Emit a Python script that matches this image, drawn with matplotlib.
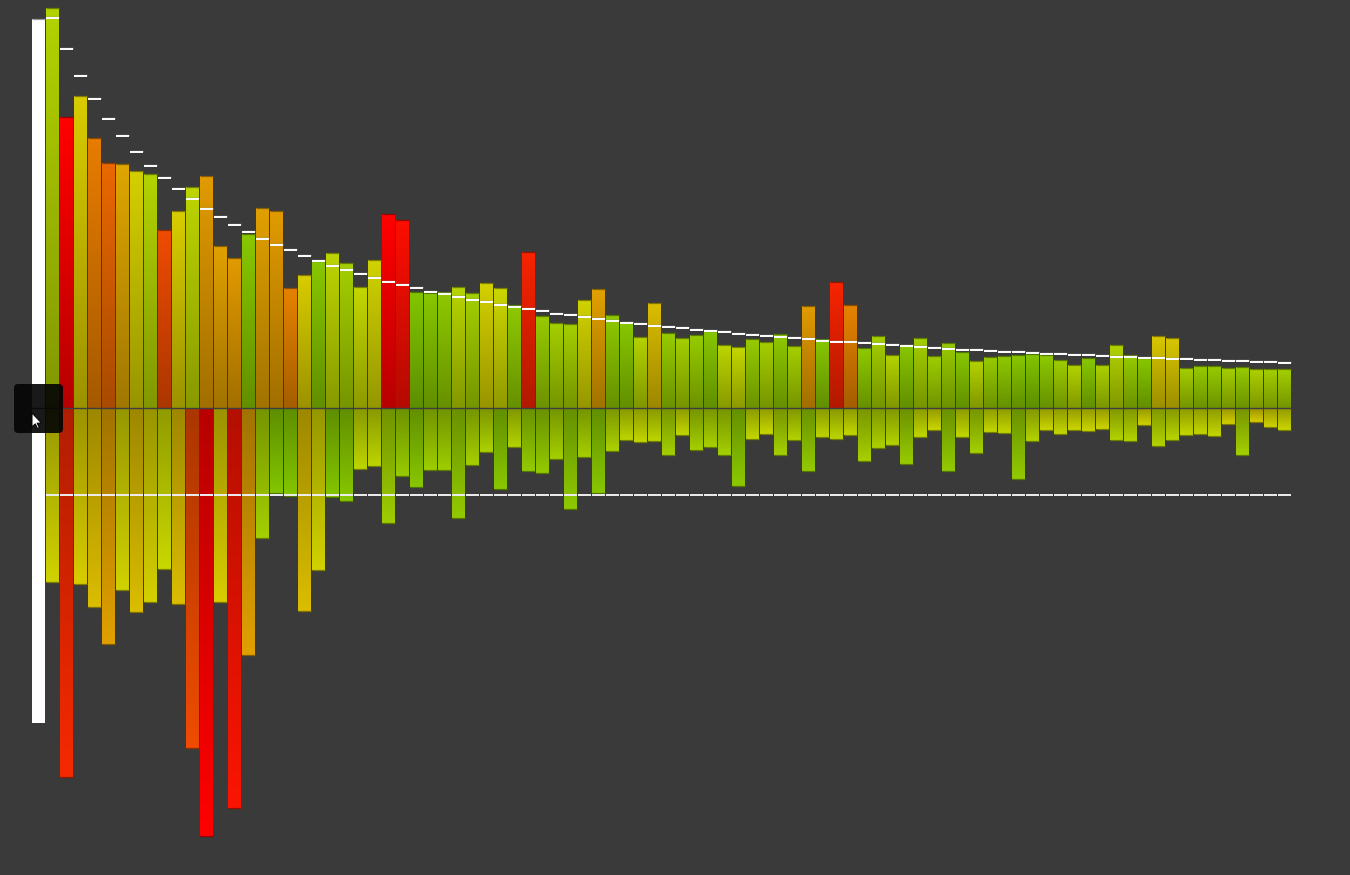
import numpy as np
import matplotlib
matplotlib.use("Agg")
import matplotlib.pyplot as plt
from matplotlib.colors import LinearSegmentedColormap, to_rgb
from matplotlib.patches import FancyBboxPatch, Polygon

## data: heights above / depths below the baseline

top_values = [400, 291, 312, 270, 245, 244, 237, 234, 178, 197,
              221, 232, 162, 150, 174, 200, 197, 120, 133, 147,
              155, 145, 121, 148, 194, 188, 116, 115, 116, 121,
              115, 125, 120, 103, 156, 92, 85, 84, 108, 119,
              93, 86, 71, 105, 75, 70, 73, 77, 63, 61,
              69, 66, 74, 62, 102, 69, 126, 103, 60, 72,
              53, 63, 70, 52, 65, 56, 47, 51, 52, 53,
              54, 53, 48, 43, 50, 43, 63, 53, 50, 72,
              70, 40, 42, 42, 40, 41, 39, 39, 39]

expected_top = [390, 359, 332, 309, 289, 272, 256, 242, 230, 219,
                209, 199, 191, 183, 176, 169, 163, 158, 152, 147,
                142, 138, 134, 130, 126, 123, 120, 116, 114, 111,
                108, 106, 103, 101, 99, 97, 94, 93, 91, 89,
                87, 85, 84, 82, 81, 80, 78, 77, 76, 74,
                73, 72, 71, 70, 69, 67, 66, 66, 65, 64,
                63, 62, 61, 60, 59, 58, 58, 57, 56, 56,
                55, 54, 54, 53, 53, 52, 51, 51, 50, 50,
                49, 49, 48, 48, 47, 47, 46, 46, 45]

bottom_values = [174, 369, 176, 199, 236, 182, 204, 194, 161, 196,
                 340, 428, 194, 400, 247, 130, 85, 88, 203, 162,
                 89, 93, 61, 58, 115, 68, 79, 62, 62, 110,
                 57, 44, 81, 39, 63, 65, 51, 101, 49, 85,
                 43, 32, 34, 33, 47, 27, 42, 39, 47, 78,
                 31, 26, 47, 32, 63, 29, 31, 27, 53, 40,
                 37, 56, 29, 22, 63, 29, 45, 24, 25, 71,
                 33, 22, 26, 22, 23, 21, 32, 33, 17, 38,
                 32, 27, 26, 28, 16, 47, 14, 19, 22]

expected_bottom = 87

# colour score per bar: 0 = green (on target) ... 1 = red (far off)
top_score = [0.25, 1.0, 0.45, 0.72, 0.78, 0.58, 0.42, 0.25, 0.85, 0.45,
             0.3, 0.62, 0.6, 0.62, 0.05, 0.6, 0.62, 0.7, 0.45, 0.05,
             0.3, 0.18, 0.33, 0.4, 1.0, 0.97, 0.02, 0.05, 0.08, 0.27,
             0.18, 0.42, 0.37, 0.08, 0.93, 0.12, 0.18, 0.18, 0.4, 0.6,
             0.08, 0.05, 0.25, 0.5, 0.12, 0.18, 0.12, 0.05, 0.3, 0.33,
             0.12, 0.18, 0.08, 0.18, 0.62, 0.05, 0.93, 0.7, 0.08, 0.18,
             0.25, 0.05, 0.18, 0.15, 0.12, 0.05, 0.25, 0.12, 0.08, 0.05,
             0.02, 0.08, 0.15, 0.25, 0.05, 0.22, 0.25, 0.12, 0.05, 0.47,
             0.47, 0.18, 0.12, 0.12, 0.18, 0.12, 0.22, 0.18, 0.18]

bottom_score = [0.4, 0.92, 0.45, 0.5, 0.6, 0.4, 0.5, 0.42, 0.35, 0.5,
                0.85, 1.0, 0.45, 0.96, 0.6, 0.18, 0.02, 0.03, 0.5, 0.4,
                0.03, 0.05, 0.3, 0.3, 0.15, 0.12, 0.05, 0.15, 0.15, 0.1,
                0.18, 0.22, 0.05, 0.25, 0.1, 0.1, 0.18, 0.08, 0.18, 0.05,
                0.22, 0.3, 0.32, 0.3, 0.18, 0.33, 0.18, 0.2, 0.18, 0.07,
                0.32, 0.35, 0.18, 0.25, 0.1, 0.3, 0.3, 0.33, 0.2, 0.22,
                0.25, 0.12, 0.32, 0.37, 0.1, 0.32, 0.18, 0.33, 0.33, 0.1,
                0.25, 0.37, 0.33, 0.37, 0.37, 0.38, 0.25, 0.25, 0.4, 0.25,
                0.28, 0.33, 0.33, 0.33, 0.42, 0.18, 0.45, 0.4, 0.37]

# the white reference bar on the far left
ref_top = 389
ref_bottom = 315

## style
bg = "#3a3a3a"
barW = 13 / 14.0
score_cmap = LinearSegmentedColormap.from_list("score", [
    (0.0, "#7ec400"), (0.2, "#a8d000"), (0.35, "#c8d800"),
    (0.45, "#d8cc00"), (0.6, "#e0a000"), (0.75, "#e87400"),
    (0.88, "#f04000"), (1.0, "#ff0000")])


def gradient_bar(ax, x, h, color):
    c = np.array(to_rgb(color))
    t = np.linspace(0, 1, 64)[:, None]          # 0 at baseline, 1 at tip
    img = (c[None, :] * (0.72 + 0.28 * t))[:, None, :]
    if h >= 0:
        ax.imshow(img, extent=(x - barW/2, x + barW/2, 0, h), origin="lower",
                  aspect="auto", interpolation="bilinear", zorder=2)
    else:
        ax.imshow(img, extent=(x - barW/2, x + barW/2, h, 0), origin="upper",
                  aspect="auto", interpolation="bilinear", zorder=2)
    ax.hlines(h, x - barW/2, x + barW/2, colors=[c * 0.6], lw=0.9, zorder=2.5)


fig = plt.figure(figsize=(13.5, 8.75), dpi=100)
fig.patch.set_facecolor(bg)
ax = fig.add_axes([0, 0, 1, 1])
ax.set_facecolor(bg)

n = len(top_values)
xs = np.arange(n)

for i in range(n):
    gradient_bar(ax, xs[i], top_values[i], score_cmap(top_score[i]))
    gradient_bar(ax, xs[i], -bottom_values[i], score_cmap(bottom_score[i]))

# white reference bar
ax.bar(-1, ref_top + ref_bottom, bottom=-ref_bottom, width=barW, color="white",
       edgecolor="none", zorder=2)
ax.hlines(ref_top, -1 - barW/2, -1 + barW/2, colors="#999999", lw=0.9, zorder=2.5)

# baseline
ax.hlines(0, -1.5, n - 0.5, colors="#3e3e3e", lw=1.0, zorder=3)

# expected markers
ax.hlines(np.array(expected_top) + 1.2, xs - barW/2, xs + barW/2, colors="#8a8a8a", lw=1.0, zorder=4)
ax.hlines(expected_top, xs - barW/2, xs + barW/2, colors="white", lw=1.4, zorder=4.5)
ax.hlines([-expected_bottom] * n, xs - barW/2, xs + barW/2, colors="#eeeeee", lw=1.4, zorder=4)

# the little black hover box + mouse pointer
box = FancyBboxPatch((-2.75, -25), 3.5, 49, boxstyle="round,pad=0,rounding_size=0.3",
                     mutation_aspect=14, facecolor="#050505", edgecolor="none",
                     alpha=0.92, zorder=6)
ax.add_patch(box)
tipX, tipY = -1.464, -5
pointer = [(0, 0), (0, 14), (3.3, 10.8), (5.5, 15.5), (7.3, 14.7), (5.1, 10.1), (9.5, 10.1)]
ax.add_patch(Polygon([(tipX + dx / 14.0, tipY - dy) for dx, dy in pointer],
                     closed=True, facecolor="white", edgecolor="black", lw=0.7, zorder=7))

ax.set_xlim(-3.75, 92.68)
ax.set_ylim(-467, 408)
ax.axis("off")

fig.savefig("out.png", dpi=100, facecolor=bg)
